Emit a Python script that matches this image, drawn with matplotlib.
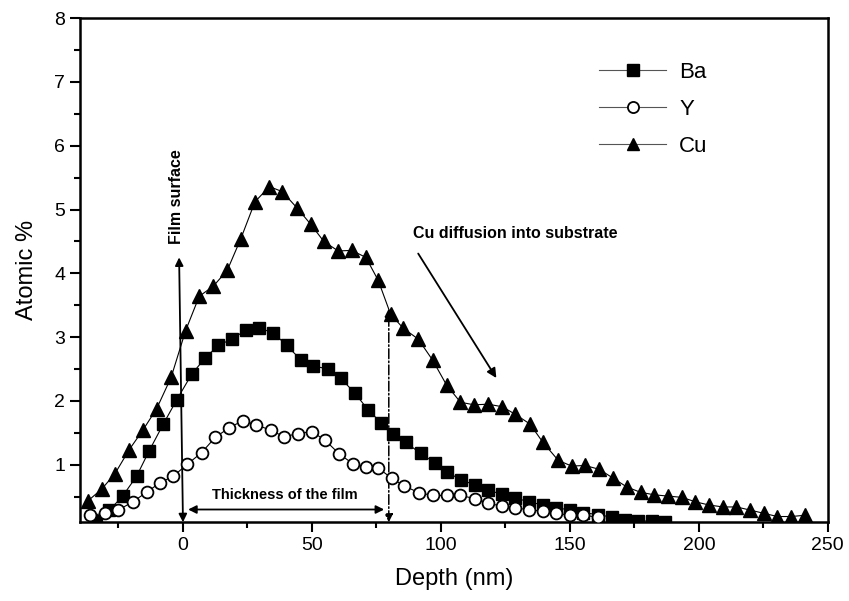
import matplotlib
matplotlib.use("Agg")
import matplotlib.pyplot as plt
from matplotlib.ticker import MultipleLocator

plt.rcParams['font.family'] = ['Liberation Sans Narrow', 'Liberation Sans', 'DejaVu Sans']

# depth profile data
ba_x = [-33.7, -28.5, -23.4, -18.0, -13.1, -7.6, -2.4, 3.4, 8.5, 13.7, 18.9, 24.4,
        29.6, 35.0, 40.2, 45.6, 50.5, 56.3, 61.1, 66.7, 71.8, 76.8, 81.5, 86.4,
        92.1, 97.7, 102.4, 107.8, 113.2, 118.3, 123.8, 128.9, 134.2, 139.6, 144.8,
        150.0, 155.2, 161.0, 166.2, 171.3, 176.5, 181.7, 186.8]
ba_y = [0.12, 0.29, 0.51, 0.82, 1.22, 1.64, 2.02, 2.42, 2.67, 2.87, 2.97, 3.11,
        3.14, 3.07, 2.87, 2.65, 2.55, 2.50, 2.36, 2.12, 1.86, 1.66, 1.48, 1.35,
        1.18, 1.03, 0.88, 0.77, 0.68, 0.60, 0.54, 0.48, 0.42, 0.37, 0.33,
        0.29, 0.25, 0.22, 0.18, 0.14, 0.12, 0.12, 0.10]

y_x = [-35.9, -30.2, -25.1, -19.5, -14.1, -8.9, -3.8, 1.7, 7.2, 12.5, 17.9, 23.1,
       28.4, 34.0, 39.3, 44.5, 49.9, 55.0, 60.6, 65.8, 70.9, 75.7, 80.9, 85.8,
       91.6, 97.0, 102.2, 107.6, 113.2, 118.3, 123.8, 128.9, 134.2, 139.6, 144.8,
       150.0, 155.2, 161.0]
y_y = [0.21, 0.24, 0.29, 0.42, 0.57, 0.72, 0.82, 1.01, 1.19, 1.43, 1.58, 1.69,
       1.63, 1.54, 1.44, 1.49, 1.52, 1.39, 1.17, 1.02, 0.97, 0.95, 0.79, 0.67,
       0.56, 0.52, 0.52, 0.52, 0.47, 0.40, 0.35, 0.32, 0.30, 0.27, 0.24,
       0.21, 0.21, 0.18]

cu_x = [-36.7, -31.5, -26.4, -20.8, -15.6, -10.2, -4.6, 1.0, 6.3, 11.8, 17.2, 22.4,
        27.9, 33.5, 38.5, 44.1, 49.5, 54.6, 60.2, 65.4, 70.9, 75.7, 80.5, 85.4,
        91.2, 96.8, 102.2, 107.6, 112.9, 118.3, 123.8, 128.9, 134.5, 139.6, 145.5,
        150.7, 155.8, 161.4, 166.8, 172.2, 177.4, 182.7, 188.1, 193.5, 198.7,
        204.0, 209.4, 214.6, 220.0, 225.2, 230.5, 235.9, 241.1]
cu_y = [0.44, 0.62, 0.86, 1.24, 1.54, 1.88, 2.37, 3.10, 3.64, 3.80, 4.05, 4.54,
        5.12, 5.36, 5.28, 5.03, 4.77, 4.50, 4.35, 4.36, 4.25, 3.89, 3.36, 3.14,
        2.97, 2.64, 2.25, 1.98, 1.94, 1.95, 1.91, 1.79, 1.64, 1.35, 1.07,
        0.98, 0.99, 0.93, 0.79, 0.65, 0.57, 0.53, 0.51, 0.49, 0.42,
        0.37, 0.34, 0.34, 0.29, 0.24, 0.19, 0.19, 0.21]

fig = plt.figure(figsize=(8.49, 6.01), dpi=100)
ax = fig.add_axes([0.094, 0.131, 0.881, 0.839])

ax.plot(ba_x, ba_y, color='black', lw=0.8, marker='s', ms=8,
        mfc='black', mec='black', label='Ba', zorder=3)
ax.plot(y_x, y_y, color='black', lw=0.8, marker='o', ms=8.5,
        mfc='white', mec='black', mew=1.3, label='Y', zorder=4)
ax.plot(cu_x, cu_y, color='black', lw=0.8, marker='^', ms=9.5,
        mfc='black', mec='black', label='Cu', zorder=5)

ax.set_xlim(-40, 250)
ax.set_ylim(0.1, 8)
ax.xaxis.set_major_locator(MultipleLocator(50))
ax.xaxis.set_minor_locator(MultipleLocator(25))
ax.yaxis.set_major_locator(MultipleLocator(1))
ax.yaxis.set_minor_locator(MultipleLocator(0.5))
ax.tick_params(which='both', direction='out', width=1.5, labelsize=14)
ax.tick_params(which='major', length=7)
ax.tick_params(which='minor', length=4)
for s in ax.spines.values():
    s.set_linewidth(1.8)

ax.set_xlabel('Depth (nm)', fontsize=17, labelpad=10)
ax.set_ylabel('Atomic %', fontsize=17, labelpad=12)

leg = ax.legend(loc='upper right', bbox_to_anchor=(0.866, 0.952), frameon=False,
                fontsize=16, handlelength=3.0, labelspacing=0.72, handletextpad=0.6)
for h in leg.get_lines():
    h.set_color('#555555')
    h.set_markerfacecolor('black')
    h.set_markeredgecolor('black')
    h.set_markersize(8)
leg.get_lines()[1].set_markerfacecolor('white')

# film surface arrow
ax.annotate('', xy=(-1.5, 4.25), xytext=(0, 0.1),
            arrowprops=dict(arrowstyle='<|-|>', color='black', lw=1.3,
                            mutation_scale=12, shrinkA=0, shrinkB=0))
ax.text(-2.5, 5.2, 'Film surface', rotation=90, ha='center', va='center',
        fontsize=11.5, fontweight='bold')

# film thickness marker
ax.annotate('', xy=(79.8, 3.45), xytext=(79.8, 0.1),
            arrowprops=dict(arrowstyle='<|-|>', color='black', lw=1.1, ls='-.',
                            mutation_scale=12, shrinkA=0, shrinkB=0))
ax.annotate('', xy=(2, 0.3), xytext=(78, 0.3),
            arrowprops=dict(arrowstyle='<|-|>', color='black', lw=1.3,
                            mutation_scale=12, shrinkA=0, shrinkB=0))
ax.text(39.5, 0.53, 'Thickness of the film', ha='center', va='center',
        fontsize=10.5, fontweight='bold')

# Cu diffusion
ax.text(128.7, 4.62, 'Cu diffusion into substrate', ha='center', va='center',
        fontsize=11.5, fontweight='bold')
ax.annotate('', xy=(121.5, 2.36), xytext=(91.2, 4.31),
            arrowprops=dict(arrowstyle='-|>', color='black', lw=1.3,
                            mutation_scale=14, shrinkA=0, shrinkB=0))

fig.savefig('out.png', dpi=100)
